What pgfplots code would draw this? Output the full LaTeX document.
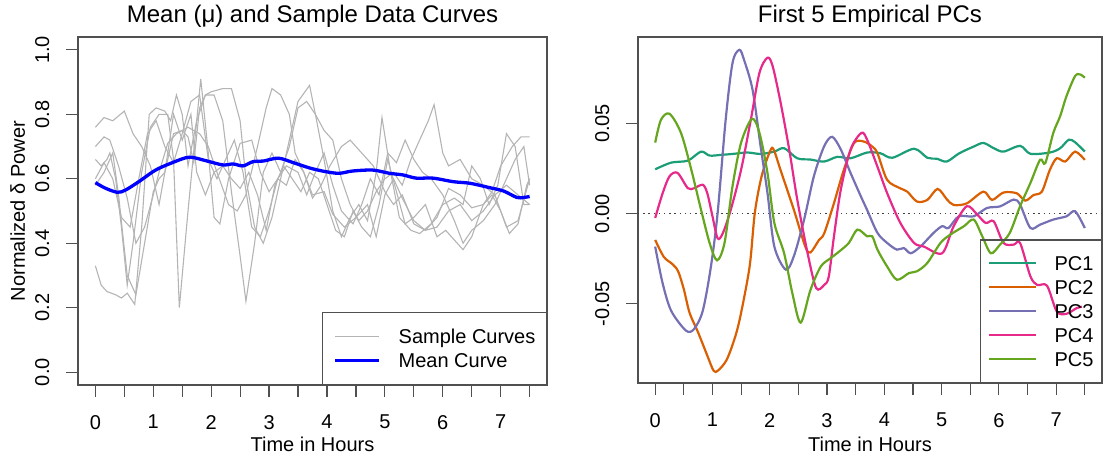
\documentclass[border=0pt]{standalone}
\usepackage{fontspec}
\setmainfont{Liberation Sans}
\usepackage{pgfplots}
\pgfplotsset{compat=1.18}
\definecolor{pcA}{HTML}{1B9E77}
\definecolor{pcB}{HTML}{D95F02}
\definecolor{pcC}{HTML}{7570B3}
\definecolor{pcD}{HTML}{E7298A}
\definecolor{pcE}{HTML}{66A61E}
\definecolor{sgray}{HTML}{B4B4B4}
\definecolor{frame}{HTML}{505050}
\newcommand{\fs}{\fontsize{20bp}{24bp}\selectfont}
\newcommand{\ft}{\fontsize{24bp}{28bp}\selectfont}
\pgfplotsset{rstyle/.style={
  scale only axis,
  scaled ticks=false,
  axis line style={frame,line width=1.2bp},
  tick pos=left, tick align=outside,
  major tick length=12bp,
  major tick style={frame,line width=1.2bp},
  xmin=-0.3, xmax=7.8,
  xtick={0,0.5,1,1.5,2,2.5,3,3.5,4,4.5,5,5.5,6,6.5,7,7.5},
  xticklabels={0,,1,,2,,3,,4,,5,,6,,7,},
  tick label style={font=\fs},
  xticklabel style={anchor=north, inner sep=0pt},
  yticklabel style={rotate=90, anchor=south, inner sep=0pt},
  xticklabel shift=18bp, yticklabel shift=16.5bp,
  label style={font=\fs},
  title style={font=\ft, at={(axis description cs:0.5,1)}, anchor=base, yshift=9bp},
  legend cell align=left,
  legend style={font=\fs, draw=frame, line width=1.2bp, fill=none,
    at={(axis description cs:1,0)}, anchor=south east,
    cells={anchor=west},
    nodes={inner sep=0pt, text height=14.3bp, text depth=0pt}},
}}
\begin{document}
\begin{tikzpicture}
\useasboundingbox (0,0) rectangle (1105bp,458bp);
% ---------------- left panel
\begin{axis}[rstyle,
  at={(78bp,73bp)}, anchor=south west, width=469bp, height=348bp,
  ymin=-0.04, ymax=1.04,
  ytick={0,0.2,0.4,0.6,0.8,1}, yticklabels={0.0,0.2,0.4,0.6,0.8,1.0},
  title={Mean (μ) and Sample Data Curves},
  xlabel={Time in Hours}, ylabel={Normalized δ Power},
  xlabel style={at={(axis description cs:0.5,-0.1925)}, anchor=base},
  ylabel style={at={(axis description cs:-0.113,0.5)}, anchor=base},
  legend style={inner xsep=11bp, inner ysep=17bp, row sep=9.6bp,
    /tikz/every odd column/.append style={column sep=18bp}},
  legend image code/.code={\path (0bp,0bp) -- (44bp,0bp); \draw[#1] (8bp,0bp) -- (44bp,0bp);},
]
\addplot[sgray, line width=1.1bp] coordinates {
(0,0.33) (0.1,0.27) (0.2,0.25) (0.35,0.24) (0.45,0.23) (0.55,0.245) (0.68,0.21) (0.8,0.45) (0.93,0.80) (1.05,0.82) (1.2,0.81) (1.3,0.78) (1.4,0.86) (1.5,0.80) (1.6,0.64) (1.75,0.78) (1.82,0.91) (1.95,0.68) (2.05,0.48) (2.15,0.46) (2.3,0.60) (2.5,0.71) (2.7,0.72) (2.85,0.62) (3.0,0.56) (3.15,0.60) (3.3,0.58) (3.45,0.66) (3.6,0.62) (3.75,0.55) (3.95,0.56) (4.1,0.49) (4.3,0.45) (4.5,0.48) (4.7,0.52) (4.85,0.42) (5.0,0.55) (5.15,0.60) (5.3,0.54) (5.5,0.47) (5.7,0.44) (5.9,0.45) (6.1,0.50) (6.3,0.52) (6.5,0.47) (6.7,0.50) (6.9,0.55) (7.1,0.45) (7.3,0.47) (7.5,0.60)};
\addlegendentry{Sample Curves}
\addplot[sgray, line width=1.1bp, forget plot] coordinates {
(0,0.76) (0.15,0.79) (0.3,0.78) (0.5,0.81) (0.65,0.74) (0.8,0.70) (0.95,0.64) (1.1,0.52) (1.2,0.62) (1.35,0.74) (1.5,0.75) (1.6,0.73) (1.7,0.65) (1.8,0.82) (1.9,0.86) (2.0,0.87) (2.2,0.88) (2.35,0.88) (2.5,0.78) (2.6,0.60) (2.75,0.45) (2.9,0.40) (3.05,0.48) (3.2,0.60) (3.35,0.72) (3.5,0.84) (3.7,0.89) (3.8,0.80) (3.95,0.75) (4.1,0.72) (4.25,0.60) (4.4,0.52) (4.55,0.47) (4.7,0.50) (4.85,0.56) (5.0,0.60) (5.15,0.62) (5.3,0.58) (5.45,0.66) (5.6,0.72) (5.75,0.78) (5.85,0.83) (6.0,0.68) (6.1,0.64) (6.3,0.66) (6.5,0.60) (6.7,0.58) (6.9,0.55) (7.1,0.58) (7.3,0.55) (7.5,0.52)};
\addplot[sgray, line width=1.1bp, forget plot] coordinates {
(0,0.70) (0.15,0.73) (0.25,0.72) (0.4,0.64) (0.55,0.54) (0.7,0.40) (0.85,0.45) (1.0,0.55) (1.1,0.62) (1.25,0.71) (1.4,0.74) (1.6,0.76) (1.8,0.74) (1.95,0.70) (2.1,0.62) (2.3,0.52) (2.45,0.50) (2.6,0.55) (2.8,0.70) (2.95,0.82) (3.05,0.88) (3.2,0.86) (3.35,0.80) (3.45,0.68) (3.6,0.62) (3.75,0.54) (3.9,0.58) (4.05,0.64) (4.25,0.70) (4.4,0.72) (4.6,0.68) (4.8,0.64) (5.0,0.56) (5.15,0.52) (5.3,0.55) (5.5,0.46) (5.7,0.44) (5.9,0.48) (6.1,0.57) (6.3,0.55) (6.5,0.51) (6.7,0.52) (6.85,0.56) (7.0,0.64) (7.2,0.70) (7.35,0.73) (7.5,0.73)};
\addplot[sgray, line width=1.1bp, forget plot] coordinates {
(0,0.66) (0.1,0.64) (0.2,0.66) (0.25,0.68) (0.35,0.60) (0.45,0.45) (0.55,0.27) (0.65,0.40) (0.8,0.62) (0.95,0.76) (1.1,0.80) (1.25,0.80) (1.35,0.66) (1.45,0.20) (1.6,0.50) (1.75,0.78) (1.9,0.86) (2.05,0.86) (2.2,0.78) (2.35,0.56) (2.5,0.36) (2.6,0.22) (2.75,0.40) (2.9,0.62) (3.05,0.68) (3.2,0.62) (3.35,0.70) (3.5,0.82) (3.65,0.84) (3.8,0.80) (3.95,0.66) (4.1,0.50) (4.25,0.42) (4.4,0.48) (4.55,0.52) (4.7,0.47) (4.85,0.62) (4.95,0.79) (5.1,0.62) (5.25,0.48) (5.45,0.44) (5.6,0.43) (5.8,0.46) (6.0,0.52) (6.2,0.54) (6.35,0.52) (6.5,0.64) (6.65,0.60) (6.8,0.52) (6.95,0.58) (7.1,0.74) (7.25,0.70) (7.4,0.52) (7.5,0.52)};
\addplot[sgray, line width=1.1bp, forget plot] coordinates {
(0,0.60) (0.15,0.65) (0.3,0.60) (0.45,0.48) (0.6,0.45) (0.75,0.60) (0.9,0.74) (1.05,0.78) (1.2,0.70) (1.35,0.65) (1.5,0.74) (1.65,0.84) (1.8,0.86) (1.95,0.66) (2.1,0.60) (2.25,0.66) (2.4,0.72) (2.55,0.62) (2.7,0.45) (2.85,0.42) (3.0,0.50) (3.15,0.60) (3.3,0.64) (3.5,0.62) (3.65,0.55) (3.8,0.62) (3.95,0.68) (4.1,0.58) (4.25,0.50) (4.45,0.46) (4.6,0.52) (4.75,0.60) (4.9,0.55) (5.05,0.68) (5.2,0.65) (5.35,0.72) (5.5,0.66) (5.65,0.62) (5.8,0.60) (6.0,0.55) (6.2,0.47) (6.35,0.40) (6.5,0.44) (6.7,0.47) (6.9,0.52) (7.05,0.58) (7.25,0.66) (7.4,0.70) (7.5,0.58)};
\addplot[sgray, line width=1.1bp, forget plot] coordinates {
(0,0.58) (0.15,0.62) (0.3,0.68) (0.4,0.55) (0.55,0.30) (0.7,0.24) (0.85,0.40) (1.0,0.56) (1.1,0.60) (1.2,0.62) (1.35,0.80) (1.5,0.72) (1.65,0.80) (1.75,0.62) (1.9,0.55) (2.05,0.62) (2.2,0.64) (2.35,0.60) (2.5,0.57) (2.65,0.62) (2.8,0.55) (2.95,0.44) (3.1,0.58) (3.25,0.64) (3.4,0.60) (3.55,0.56) (3.7,0.62) (3.85,0.60) (4.0,0.52) (4.15,0.44) (4.3,0.42) (4.45,0.50) (4.6,0.45) (4.75,0.42) (4.9,0.52) (5.05,0.66) (5.2,0.56) (5.35,0.46) (5.5,0.48) (5.7,0.52) (5.9,0.42) (6.05,0.44) (6.2,0.41) (6.35,0.38) (6.5,0.42) (6.7,0.52) (6.85,0.55) (7.0,0.50) (7.15,0.43) (7.3,0.46) (7.45,0.58) (7.5,0.60)};
\addplot[blue, line width=3.3bp, smooth] coordinates {
(0,0.588) (0.17,0.571) (0.38,0.558) (0.52,0.565) (0.75,0.591) (1.04,0.627) (1.33,0.650) (1.62,0.667) (1.91,0.656) (2.20,0.643) (2.38,0.646) (2.55,0.640) (2.72,0.653) (2.90,0.655) (3.16,0.664) (3.42,0.650) (3.71,0.633) (3.98,0.622) (4.21,0.617) (4.44,0.624) (4.79,0.627) (5.08,0.617) (5.31,0.612) (5.54,0.602) (5.83,0.602) (6.18,0.591) (6.47,0.586) (6.82,0.572) (7.05,0.562) (7.28,0.542) (7.40,0.542) (7.50,0.545)};
\addlegendentry{Mean Curve}
\end{axis}
% ---------------- right panel
\begin{axis}[rstyle,
  at={(638bp,75bp)}, anchor=south west, width=464bp, height=346bp,
  ymin=-0.094, ymax=0.098,
  ytick={-0.05,0,0.05}, yticklabels={-0.05,0.00,0.05},
  title={First 5 Empirical PCs},
  xlabel={Time in Hours},
  xlabel style={at={(axis description cs:0.5,-0.199)}, anchor=base},
  legend style={inner xsep=8bp, inner ysep=16bp, row sep=9.7bp,
    /tikz/every odd column/.append style={column sep=17bp}},
  legend image code/.code={\path (0bp,0bp) -- (47bp,0bp); \draw[#1] (9bp,0bp) -- (47bp,0bp);},
]
\addplot[black!75, line width=1.4bp, dash pattern=on 1.4bp off 3.8bp, forget plot] coordinates {(-0.3,0) (7.8,0)};
\addplot[pcA, line width=2.2bp, smooth] coordinates {
(0,0.0246) (0.28,0.0283) (0.57,0.0294) (0.8,0.0344) (0.95,0.0322) (1.15,0.0326) (1.35,0.0331) (1.61,0.0339) (1.84,0.0331) (2.08,0.0344) (2.25,0.0363) (2.48,0.0307) (2.71,0.0300) (2.95,0.0289) (3.18,0.0315) (3.41,0.0307) (3.7,0.0339) (3.93,0.0335) (4.14,0.0310) (4.52,0.0360) (4.75,0.0310) (4.92,0.0304) (5.09,0.0289) (5.31,0.0335) (5.56,0.0372) (5.73,0.0392) (5.91,0.0363) (6.08,0.0344) (6.37,0.0376) (6.55,0.0332) (6.89,0.0339) (7.07,0.0363) (7.22,0.0410) (7.33,0.0396) (7.5,0.0344)};
\addlegendentry{PC1}
\addplot[pcB, line width=2.2bp, smooth] coordinates {
(0,-0.0146) (0.15,-0.024) (0.3,-0.028) (0.4,-0.032) (0.5,-0.042) (0.6,-0.055) (0.75,-0.066) (0.9,-0.078) (1.02,-0.0872) (1.1,-0.087) (1.25,-0.081) (1.4,-0.068) (1.5,-0.055) (1.65,-0.029) (1.74,0.0006) (1.86,0.021) (2.01,0.035) (2.07,0.0354) (2.19,0.024) (2.42,0.0022) (2.62,-0.0183) (2.71,-0.0216) (2.86,-0.0146) (2.95,-0.011) (3.12,0.0057) (3.29,0.024) (3.47,0.0391) (3.64,0.0400) (3.79,0.0372) (3.88,0.0335) (4.05,0.0187) (4.28,0.0140) (4.40,0.0122) (4.57,0.0067) (4.75,0.0076) (4.93,0.0137) (5.09,0.0080) (5.21,0.0048) (5.44,0.0057) (5.73,0.0122) (5.88,0.0076) (6.08,0.0117) (6.31,0.0113) (6.46,0.0072) (6.61,0.0104) (6.75,0.0122) (6.89,0.0243) (7.01,0.0307) (7.16,0.0289) (7.33,0.0344) (7.5,0.0298)};
\addlegendentry{PC2}
\addplot[pcC, line width=2.2bp, smooth] coordinates {
(0,-0.0183) (0.13,-0.0387) (0.28,-0.054) (0.54,-0.065) (0.68,-0.064) (0.83,-0.054) (0.97,-0.030) (1.09,0.0004) (1.23,0.052) (1.35,0.0836) (1.47,0.0909) (1.55,0.0854) (1.70,0.0687) (1.84,0.0374) (1.96,0.0115) (2.08,-0.0183) (2.28,-0.0311) (2.42,-0.0237) (2.60,-0.0033) (2.77,0.0207) (2.95,0.0374) (3.09,0.0426) (3.24,0.0356) (3.41,0.0226) (3.59,0.0096) (3.70,0.0020) (3.88,-0.0107) (4.05,-0.0163) (4.22,-0.0200) (4.34,-0.0191) (4.46,-0.0220) (4.63,-0.0183) (4.86,-0.0107) (5.01,-0.0070) (5.12,-0.0080) (5.30,-0.0015) (5.56,-0.0015) (5.79,0.0031) (6.02,0.0040) (6.26,0.0078) (6.37,0.0050) (6.55,-0.0080) (6.72,-0.0061) (6.95,-0.0033) (7.18,-0.0015) (7.33,0.0013) (7.5,-0.0080)};
\addlegendentry{PC3}
\addplot[pcD, line width=2.2bp, smooth] coordinates {
(0,-0.0024) (0.13,0.0113) (0.25,0.0207) (0.39,0.0226) (0.57,0.0141) (0.68,0.0141) (0.83,0.0160) (0.91,0.0113) (1.0,-0.0015) (1.09,-0.0137) (1.18,-0.0109) (1.32,0.0022) (1.50,0.0244) (1.67,0.0522) (1.82,0.0781) (1.96,0.0865) (2.05,0.0819) (2.19,0.0615) (2.34,0.0355) (2.48,0.0078) (2.66,-0.0219) (2.81,-0.0413) (2.95,-0.0396) (3.03,-0.0350) (3.12,-0.0128) (3.24,0.0133) (3.41,0.0355) (3.60,0.0448) (3.70,0.0410) (3.88,0.0260) (4.05,0.0113) (4.28,-0.0052) (4.52,-0.0163) (4.69,-0.0183) (5.01,-0.0220) (5.21,-0.0070) (5.44,0.0041) (5.62,-0.0005) (5.77,-0.0052) (5.91,-0.0043) (6.08,-0.0163) (6.26,-0.0172) (6.37,-0.0163) (6.55,-0.0348) (6.67,-0.0396) (6.84,-0.0400) (7.01,-0.0543) (7.18,-0.0556) (7.36,-0.0524) (7.45,-0.0517)};
\addlegendentry{PC4}
\addplot[pcE, line width=2.2bp, smooth] coordinates {
(0,0.0394) (0.1,0.0520) (0.25,0.0554) (0.45,0.0448) (0.63,0.0244) (0.80,0.0022) (0.95,-0.0163) (1.08,-0.0259) (1.21,-0.0163) (1.35,0.0152) (1.50,0.0394) (1.69,0.0526) (1.82,0.0448) (1.96,0.0226) (2.08,-0.0052) (2.25,-0.0219) (2.40,-0.0450) (2.54,-0.0605) (2.71,-0.0424) (2.89,-0.0294) (3.06,-0.0248) (3.21,-0.0211) (3.38,-0.0163) (3.53,-0.0089) (3.70,-0.0126) (3.79,-0.0126) (3.88,-0.0200) (4.05,-0.0294) (4.22,-0.0367) (4.43,-0.0330) (4.57,-0.0320) (4.75,-0.0274) (4.98,-0.0163) (5.15,-0.0117) (5.39,-0.0070) (5.56,-0.0033) (5.71,-0.0126) (5.86,-0.0220) (6.02,-0.0172) (6.19,-0.0107) (6.37,0.0041) (6.55,0.0170) (6.72,0.0299) (6.81,0.0280) (6.95,0.0448) (7.07,0.0541) (7.18,0.0652) (7.33,0.0763) (7.42,0.0772) (7.5,0.0754)};
\addlegendentry{PC5}
\end{axis}
\end{tikzpicture}
\end{document}
